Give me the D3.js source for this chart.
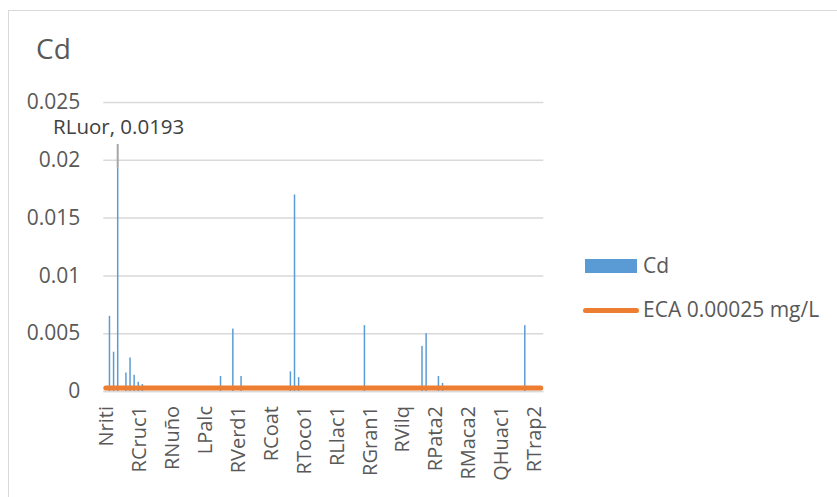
<!DOCTYPE html>
<html>
<head>
<meta charset="utf-8">
<script src="https://cdn.jsdelivr.net/npm/d3@7"></script>
<style>
    body { margin: 0; background: #fff; }
    text { font-family: "Open Sans", sans-serif; fill: #595959; }
</style>
</head>
<body>
<div id="chart"></div>
<script>
// Cd concentration per station (mg/L), 107 stations, only every 8th name is printed on the axis
const tickLabels = ["Nriti", "RCruc1", "RNuño", "LPalc", "RVerd1", "RCoat", "RToco1",
    "RLlac1", "RGran1", "RVilq", "RPata2", "RMaca2", "QHuac1", "RTrap2"];
const labelStep = 8;

const cdValues = [
    0, 0.0065, 0.0034, 0.0193, 0, 0.0016, 0.0029, 0.0014, 0.0008, 0.0006,
    0, 0, 0, 0, 0, 0, 0, 0, 0, 0,
    0, 0, 0, 0, 0, 0, 0, 0, 0.0013, 0,
    0, 0.0054, 0, 0.0013, 0, 0, 0, 0, 0, 0,
    0, 0, 0, 0, 0, 0.0017, 0.0170, 0.0012, 0, 0,
    0, 0, 0, 0, 0, 0, 0, 0, 0, 0,
    0, 0, 0, 0.0057, 0, 0, 0, 0, 0, 0,
    0, 0, 0, 0, 0, 0, 0, 0.0039, 0.0050, 0,
    0, 0.0013, 0.0007, 0, 0, 0, 0, 0, 0, 0,
    0, 0, 0, 0, 0, 0, 0, 0, 0, 0,
    0, 0, 0.0057, 0, 0, 0, 0
];

const ecaLimit = 0.00025;
const yTicks = [0, 0.005, 0.01, 0.015, 0.02, 0.025];

// highlighted point
const peakName = "RLuor";
const peakIndex = 3;

const svgWidth = 837;
const svgHeight = 497;
const plot = { left: 103.3, right: 543.3, top: 102, bottom: 391 };

const svg = d3.select("#chart")
    .append("svg")
    .attr("width", svgWidth)
    .attr("height", svgHeight);

// chart frame
svg.append("rect")
    .attr("x", 8.5)
    .attr("y", 10.5)
    .attr("width", 850)
    .attr("height", 520)
    .attr("fill", "none")
    .attr("stroke", "#d9d9d9")
    .attr("stroke-width", 1);

svg.append("text")
    .attr("x", 36)
    .attr("y", 59)
    .style("font-size", "28px")
    .text("Cd");

const xScale = d3.scaleBand()
    .domain(d3.range(cdValues.length))
    .range([plot.left, plot.right]);

const yScale = d3.scaleLinear()
    .domain([0, 0.025])
    .range([plot.bottom, plot.top]);

// gridlines + y labels
const yAxis = svg.append("g")
    .attr("transform", `translate(${plot.left},0)`)
    .call(d3.axisLeft(yScale)
        .tickValues(yTicks)
        .tickSize(-(plot.right - plot.left))
        .tickPadding(23)
        .tickFormat(d => d === 0 ? "0" : String(+d.toFixed(3))));

yAxis.select(".domain").remove();
yAxis.selectAll(".tick line")
    .attr("stroke", "#d9d9d9")
    .attr("stroke-width", 1.5);
yAxis.selectAll(".tick text")
    .style("font-size", "21px")
    .style("font-family", "Open Sans, sans-serif")
    .attr("fill", "#595959");

// x axis baseline
svg.append("line")
    .attr("x1", plot.left)
    .attr("x2", plot.right)
    .attr("y1", plot.bottom + 0.5)
    .attr("y2", plot.bottom + 0.5)
    .attr("stroke", "#d9d9d9")
    .attr("stroke-width", 1.5);

const barWidth = xScale.bandwidth() * 0.36;

svg.selectAll(".bar")
    .data(cdValues)
    .enter()
    .append("rect")
    .attr("class", "bar")
    .attr("x", (d, i) => xScale(i) + xScale.bandwidth() / 2 - barWidth / 2)
    .attr("y", d => yScale(d))
    .attr("width", barWidth)
    .attr("height", d => plot.bottom - yScale(d))
    .style("fill", "#5B9BD5");

// ECA limit line
svg.append("line")
    .attr("x1", xScale.range()[0] + 2.5)
    .attr("x2", xScale.range()[1] - 2.5)
    .attr("y1", yScale(ecaLimit))
    .attr("y2", yScale(ecaLimit))
    .attr("stroke", "#ED7D31")
    .attr("stroke-width", 5)
    .attr("stroke-linecap", "round");

// category labels, every 8th station
svg.selectAll(".xlabel")
    .data(tickLabels)
    .enter()
    .append("text")
    .attr("class", "xlabel")
    .attr("transform", (d, i) => `translate(${xScale(i * labelStep) + xScale.bandwidth() / 2 + 1},406) rotate(-90)`)
    .attr("dy", "0.35em")
    .style("text-anchor", "end")
    .style("font-size", "20px")
    .text(d => d);

// data label for the peak
const peakX = xScale(peakIndex) + xScale.bandwidth() / 2;
svg.append("line")
    .attr("x1", peakX)
    .attr("x2", peakX)
    .attr("y1", 144)
    .attr("y2", yScale(cdValues[peakIndex]))
    .attr("stroke", "#a6a6a6")
    .attr("stroke-width", 2);

svg.append("text")
    .attr("x", peakX + 1)
    .attr("y", 134)
    .style("text-anchor", "middle")
    .style("font-size", "20.5px")
    .style("fill", "#404040")
    .text(`${peakName}, ${cdValues[peakIndex]}`);

// legend
const legend = svg.append("g");

legend.append("rect")
    .attr("x", 585)
    .attr("y", 259)
    .attr("width", 52)
    .attr("height", 14)
    .attr("fill", "#5B9BD5");

legend.append("text")
    .attr("x", 643)
    .attr("y", 266)
    .attr("dy", "0.35em")
    .style("font-size", "21px")
    .text("Cd");

legend.append("line")
    .attr("x1", 585.5)
    .attr("x2", 636.5)
    .attr("y1", 310.5)
    .attr("y2", 310.5)
    .attr("stroke", "#ED7D31")
    .attr("stroke-width", 5)
    .attr("stroke-linecap", "round");

legend.append("text")
    .attr("x", 643)
    .attr("y", 310)
    .attr("dy", "0.35em")
    .style("font-size", "21px")
    .text("ECA 0.00025 mg/L");
</script>
</body>
</html>
